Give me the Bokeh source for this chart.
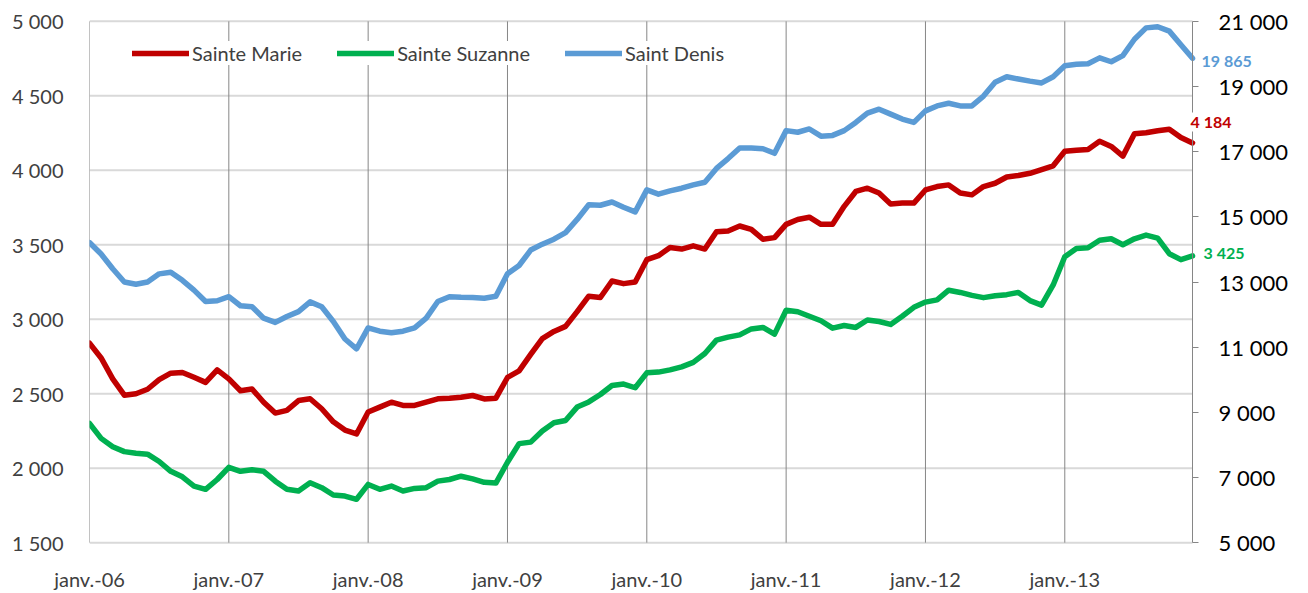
import numpy as np
from bokeh.plotting import figure
from bokeh.models import LinearAxis, Range1d, FixedTicker, Legend, LegendItem, Label
from bokeh.embed import file_html
from bokeh.resources import INLINE

# ---- data (monthly, Jan 2006 .. Dec 2013) ----
sainte_marie = [2840, 2740, 2600, 2490, 2500, 2530, 2595, 2638, 2642, 2610, 2576, 2660,
                2600, 2520, 2532, 2443, 2370, 2388, 2454, 2466, 2399, 2311, 2256, 2230,
                2377, 2410, 2443, 2421, 2421, 2443, 2466, 2470, 2476, 2488, 2465, 2470,
                2609, 2653, 2764, 2870, 2918, 2952, 3051, 3155, 3146, 3257, 3239, 3250,
                3400, 3427, 3482, 3471, 3493, 3471, 3588, 3593, 3626, 3603, 3537, 3548,
                3637, 3670, 3685, 3637, 3637, 3758, 3858, 3880, 3847, 3774, 3780, 3780,
                3868, 3891, 3902, 3847, 3835, 3891, 3913, 3955, 3965, 3980, 4005, 4030,
                4128, 4135, 4140, 4195, 4160, 4095, 4245, 4252, 4265, 4275, 4220, 4184]

sainte_suzanne = [2300, 2200, 2144, 2111, 2100, 2094, 2045, 1979, 1942, 1880, 1858, 1924,
                  2006, 1979, 1990, 1979, 1913, 1858, 1847, 1902, 1869, 1820, 1813, 1791,
                  1891, 1858, 1880, 1847, 1864, 1869, 1913, 1924, 1946, 1928, 1905, 1900,
                  2040, 2165, 2175, 2250, 2305, 2320, 2410, 2445, 2495, 2555, 2565, 2540,
                  2640, 2645, 2660, 2680, 2710, 2770, 2860, 2880, 2895, 2935, 2945, 2900,
                  3060, 3050, 3020, 2990, 2940, 2958, 2945, 2995, 2985, 2965, 3020, 3080,
                  3115, 3130, 3195, 3180, 3160, 3145, 3158, 3165, 3180, 3125, 3095, 3230,
                  3420, 3475, 3480, 3530, 3540, 3500, 3540, 3565, 3545, 3440, 3400, 3425]

saint_denis = [14210, 13860, 13405, 13000, 12930, 13000, 13250, 13300, 13050, 12750, 12400, 12425,
               12550, 12270, 12240, 11890, 11760, 11940, 12090, 12390, 12240, 11790, 11250, 10950,
               11590, 11490, 11440, 11490, 11590, 11890, 12400, 12550, 12530, 12525, 12500, 12560,
               13253, 13506, 13980, 14161, 14313, 14516, 14920, 15373, 15355, 15455, 15294, 15152,
               15828, 15697, 15798, 15879, 15980, 16061, 16485, 16788, 17111, 17111, 17091, 16950,
               17646, 17596, 17697, 17475, 17500, 17646, 17899, 18182, 18303, 18152, 18000, 17899,
               18253, 18404, 18485, 18404, 18404, 18707, 19131, 19300, 19230, 19165, 19110, 19300,
               19640, 19680, 19700, 19880, 19760, 19950, 20450, 20800, 20835, 20700, 20280, 19865]

year_labels = ["janv.-06", "janv.-07", "janv.-08", "janv.-09",
               "janv.-10", "janv.-11", "janv.-12", "janv.-13"]
left_ticks = [1500, 2000, 2500, 3000, 3500, 4000, 4500, 5000]
right_ticks = [5000, 7000, 9000, 11000, 13000, 15000, 17000, 19000, 21000]

series_names = ["Sainte Marie", "Sainte Suzanne", "Saint Denis"]
colors = ["#C00000", "#00B050", "#5B9BD5"]


def fmt(v):
    return f"{int(v):,}".replace(",", " ")


n = len(sainte_marie)
x = np.arange(n)
year_ticks = [12 * i for i in range(len(year_labels))]

FONT = "Lato"

# layout: data area 1103 x 528 px; frame padded so edge tick labels are not clipped
W, H = 1308, 593
data_w, data_h = 1103, 528
pad = 12
left_b, top_b, bottom_b, right_b = 89, 21 - pad, 44 - pad, 8
frame_w = W - left_b - right_b
x_end = (n - 1) * frame_w / data_w
l_pad = pad * (left_ticks[-1] - left_ticks[0]) / data_h
r_pad = pad * (right_ticks[-1] - right_ticks[0]) / data_h

p = figure(width=W, height=H, output_backend="svg", toolbar_location=None,
           x_range=Range1d(0, x_end),
           y_range=Range1d(left_ticks[0] - l_pad, left_ticks[-1] + l_pad),
           min_border_left=left_b, min_border_right=right_b,
           min_border_top=top_b, min_border_bottom=bottom_b)
p.extra_y_ranges = {"right": Range1d(right_ticks[0] - r_pad, right_ticks[-1] + r_pad)}
p.outline_line_color = None
p.background_fill_color = "white"
p.border_fill_color = "white"

# grids, limited to the data area
p.xgrid.visible = False
p.ygrid.visible = False
p.segment(x0=[0] * len(left_ticks), x1=[n - 1] * len(left_ticks), y0=left_ticks, y1=left_ticks,
          line_color="#D9D9D9", line_width=2, level="underlay")
p.segment(x0=year_ticks, x1=year_ticks, y0=[left_ticks[0]] * len(year_ticks),
          y1=[left_ticks[-1]] * len(year_ticks),
          line_color="#868686", line_width=1, level="underlay")

# left axis
ya = p.yaxis[0]
ya.ticker = FixedTicker(ticks=left_ticks)
ya.major_label_overrides = {t: fmt(t) for t in left_ticks}
ya.axis_line_color = None
ya.major_tick_line_color = None
ya.minor_tick_line_color = None
ya.major_label_standoff = 20
ya.major_label_text_font = FONT
ya.major_label_text_font_size = "20px"
ya.major_label_text_color = "#404040"

# bottom axis
xa = p.xaxis[0]
xa.ticker = FixedTicker(ticks=year_ticks)
xa.major_label_overrides = {t: lab for t, lab in zip(year_ticks, year_labels)}
xa.axis_line_color = None
xa.major_tick_line_color = None
xa.minor_tick_line_color = None
xa.major_label_standoff = 6
xa.major_label_text_font = FONT
xa.major_label_text_font_size = "20px"
xa.major_label_text_color = "#404040"

# right axis, placed at the last month
ra = LinearAxis(y_range_name="right", ticker=FixedTicker(ticks=right_ticks), fixed_location=n - 1,
                bounds=(right_ticks[0], right_ticks[-1]))
ra.major_label_overrides = {t: fmt(t) for t in right_ticks}
ra.axis_line_color = "#868686"
ra.major_tick_line_color = "#868686"
ra.major_tick_out = 6
ra.major_tick_in = 0
ra.minor_tick_line_color = None
ra.major_label_standoff = 20
ra.major_label_text_font = FONT
ra.major_label_text_font_size = "22px"
ra.major_label_text_color = "#000000"
p.add_layout(ra, "right")

# lines
r1 = p.line(x, sainte_marie, line_color=colors[0], line_width=5.5, line_join="round", line_cap="round")
r2 = p.line(x, sainte_suzanne, line_color=colors[1], line_width=5.5, line_join="round", line_cap="round")
r3 = p.line(x, saint_denis, line_color=colors[2], line_width=5.5, line_join="round", line_cap="round",
            y_range_name="right")

legend = Legend(items=[LegendItem(label=series_names[0], renderers=[r1]),
                       LegendItem(label=series_names[1], renderers=[r2]),
                       LegendItem(label=series_names[2], renderers=[r3])],
                orientation="horizontal", location=(43, 489))
legend.glyph_width = 57
legend.glyph_height = 20
legend.label_standoff = 3
legend.spacing = 35
legend.padding = 9
legend.margin = 0
legend.border_line_color = None
legend.background_fill_color = "white"
legend.background_fill_alpha = 1.0
legend.label_text_font = FONT
legend.label_text_font_size = "20px"
legend.label_text_color = "#404040"
p.add_layout(legend, "center")

# end-value data labels
last = n - 1
p.add_layout(Label(x=last, y=saint_denis[-1], y_range_name="right", text=fmt(saint_denis[-1]),
                   x_offset=9, y_offset=-2, text_baseline="middle", text_align="left",
                   text_font=FONT, text_font_style="bold", text_font_size="16px",
                   text_color=colors[2], background_fill_color="white"))
p.add_layout(Label(x=last, y=sainte_marie[-1], text=fmt(sainte_marie[-1]),
                   x_offset=-2, y_offset=21, text_baseline="middle", text_align="left",
                   text_font=FONT, text_font_style="bold", text_font_size="16px",
                   text_color=colors[0], background_fill_color="white"))
p.add_layout(Label(x=last, y=sainte_suzanne[-1], text=fmt(sainte_suzanne[-1]),
                   x_offset=11, y_offset=3, text_baseline="middle", text_align="left",
                   text_font=FONT, text_font_style="bold", text_font_size="16px",
                   text_color=colors[1]))

open("out.html", "w").write(file_html(p, INLINE))
